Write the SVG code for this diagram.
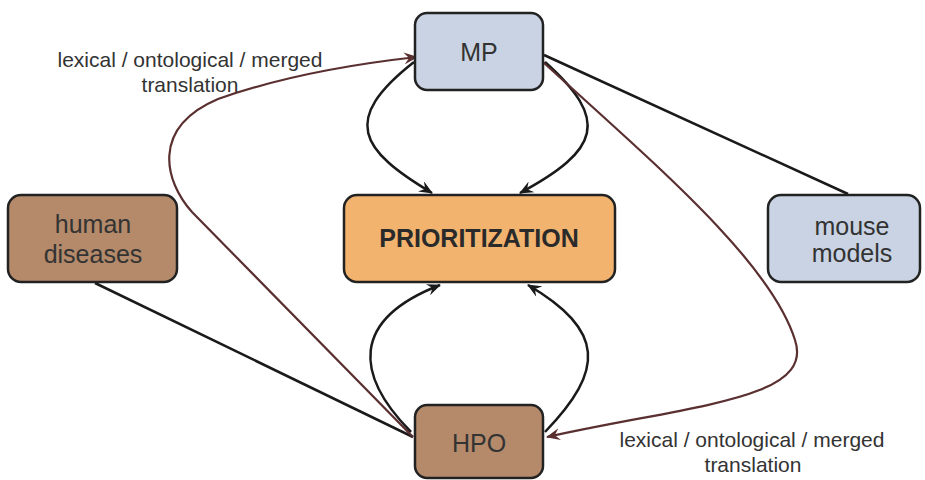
<svg xmlns="http://www.w3.org/2000/svg" width="925" height="480" viewBox="0 0 925 480">
<defs>
<style>
.box{stroke:#222;stroke-width:2.5}
.blue{fill:#c9d3e3}
.brown{fill:#b48a6a}
.orange{fill:#f2b36f}
.t{font-family:"Liberation Sans",Arial,sans-serif;font-size:25px;fill:#333;text-anchor:middle}
.tb{font-family:"Liberation Sans",Arial,sans-serif;font-size:25px;font-weight:bold;fill:#2a2a2a;text-anchor:middle}
.lbl{font-family:"Liberation Sans",Arial,sans-serif;font-size:21px;fill:#333;text-anchor:middle}
.blk{fill:none;stroke:#1a1a1a;stroke-width:2.5}
.brn{fill:none;stroke:#5a2f30;stroke-width:2.2}
</style>
<marker id="ab" viewBox="0 0 14 12" refX="13" refY="6" markerWidth="14" markerHeight="12" markerUnits="userSpaceOnUse" orient="auto">
<path d="M0,0 L14,6 L0,12 L5,6 z" fill="#1a1a1a"/>
</marker>
<marker id="ar" viewBox="0 0 14 12" refX="13" refY="6" markerWidth="14" markerHeight="12" markerUnits="userSpaceOnUse" orient="auto">
<path d="M0,0 L14,6 L0,12 L5,6 z" fill="#5a2f30"/>
</marker>
</defs>
<rect width="925" height="480" fill="#fff"/>
<g id="connectors">
<path class="blk" d="M95,283 L413,437"/>
<path class="blk" d="M544,55 L848,194"/>
<path class="blk" d="M414,62 C340,120 360,150 432,193" marker-end="url(#ab)"/>
<path class="blk" d="M545,62 C610,120 600,150 520,193" marker-end="url(#ab)"/>
<path class="blk" d="M411,432 C355,375 350,320 440,285" marker-end="url(#ab)"/>
<path class="blk" d="M545,432 C605,370 605,330 528,285" marker-end="url(#ab)"/>
<path class="brn" d="M413,437 L192,212 C165,182 150,128 218,99 Q300,70 417,57" marker-end="url(#ar)"/>
<path class="brn" d="M543,62 C650,160 770,260 795,340 C815,400 690,405 547,437" marker-end="url(#ar)"/>
</g>
<g id="node-mp">
<rect class="box blue" x="415" y="13" width="128" height="77" rx="12"/>
<text class="t" x="479" y="61">MP</text>
</g>
<g id="node-prioritization">
<rect class="box orange" x="344" y="195" width="271" height="87" rx="13"/>
<text class="tb" x="479" y="247">PRIORITIZATION</text>
</g>
<g id="node-human-diseases">
<rect class="box brown" x="8" y="195" width="169" height="87" rx="13"/>
<text class="t" x="93" y="233">human</text>
<text class="t" x="93" y="263">diseases</text>
</g>
<g id="node-mouse-models">
<rect class="box blue" x="768" y="195" width="152" height="87" rx="13"/>
<text class="t" x="852" y="235">mouse</text>
<text class="t" x="852" y="262">models</text>
</g>
<g id="node-hpo">
<rect class="box brown" x="415" y="405" width="128" height="73" rx="12"/>
<text class="t" x="479" y="452">HPO</text>
</g>
<g id="labels">
<text class="lbl" x="190" y="67">lexical / ontological / merged</text>
<text class="lbl" x="190" y="92">translation</text>
<text class="lbl" x="752" y="447">lexical / ontological / merged</text>
<text class="lbl" x="753" y="472">translation</text>
</g>
</svg>
